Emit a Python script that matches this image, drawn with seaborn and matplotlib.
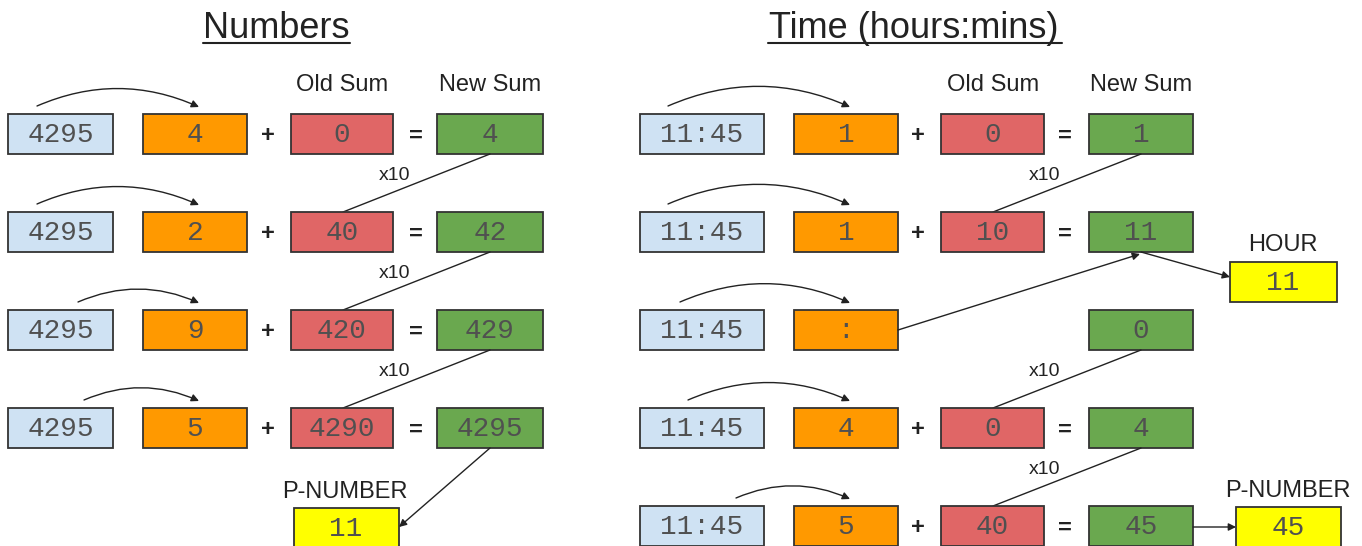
import matplotlib
matplotlib.use('Agg')
import matplotlib.pyplot as plt
import matplotlib.patches as patches
import seaborn as sns

# Values shown in the boxes
num_source = '4295'
num_digits = ['4', '2', '9', '5']
num_old = ['0', '40', '420', '4290']
num_new = ['4', '42', '429', '4295']
num_result = '11'

time_source = '11:45'
time_chars = ['1', '1', ':', '4', '5']
time_old = ['0', '10', None, '0', '40']
time_new = ['1', '11', '0', '4', '45']
hour_value = '11'
time_result = '45'

titles = ['Numbers', 'Time (hours:mins)']
old_label = 'Old Sum'
new_label = 'New Sum'
mult_label = 'x10'

# Colours (Google Drawings palette)
c_blue = '#cfe2f3'
c_orange = '#ff9900'
c_red = '#e06666'
c_green = '#6aa84f'
c_yellow = '#ffff00'
c_edge = '#333333'
c_text = '#505050'

sns.set_theme(style='white')
plt.rcParams['font.family'] = ['Liberation Sans', 'DejaVu Sans']

fig = plt.figure(figsize=(13.62, 5.46), dpi=100)
ax = fig.add_axes([0, 0, 1, 1])
ax.set_xlim(0, 1362)
ax.set_ylim(546, 0)
ax.axis('off')

row_tops = [114, 212, 310, 408, 506]
box_h = 40


def box(x0, x1, y0, color, label):
    ax.add_patch(patches.Rectangle((x0, y0), x1 - x0, box_h, facecolor=color,
                                   edgecolor=c_edge, linewidth=1.3))
    ax.text((x0 + x1) / 2, y0 + box_h / 2 + 1, label, ha='center', va='center',
            fontsize=20, family='Liberation Mono', color=c_text)


def arrow(p0, p1, rad=0.0, head=True):
    style = '-|>' if head else '-'
    ax.add_patch(patches.FancyArrowPatch(p0, p1, arrowstyle=style, mutation_scale=11,
                                         connectionstyle=f'arc3,rad={rad}',
                                         color='#222222', linewidth=1.0,
                                         shrinkA=0, shrinkB=0))


def title(x, txt, x0, x1):
    ax.text(x, 38, txt, ha='center', va='baseline', fontsize=26, color='#222222')
    ax.plot([x0, x1], [43, 43], color='#222222', linewidth=1.5)


def plus_eq(xp, xe, y):
    ax.text(xp, y + 2, '+', ha='center', va='center', fontsize=17, fontweight='bold', color='#222222')
    ax.text(xe, y + 2, '=', ha='center', va='center', fontsize=17, fontweight='bold', color='#222222')


def small(x, y, txt, size=17):
    ax.text(x, y, txt, ha='center', va='center', fontsize=size, color='#222222')


# ---------------- Left panel: Numbers ----------------
L_blue, L_orange, L_red, L_green = (8, 113), (143, 247), (291, 393), (437, 543)
title(276, titles[0], 203, 350)
small(342, 85, old_label)
small(490, 85, new_label)

curve_starts_left = [37, 37, 78, 84]
for i in range(4):
    y0 = row_tops[i]
    yc = y0 + box_h / 2
    box(*L_blue, y0, c_blue, num_source)
    box(*L_orange, y0, c_orange, num_digits[i])
    box(*L_red, y0, c_red, num_old[i])
    box(*L_green, y0, c_green, num_new[i])
    plus_eq(268, 416, yc)
    arrow((curve_starts_left[i], y0 - 8), (199, y0 - 7), rad=-0.22)
    if i < 3:
        arrow((490, y0 + box_h), (343, row_tops[i + 1]), head=False)
        small(395, y0 + box_h + 21, mult_label, size=14)

# P-NUMBER result
ax.add_patch(patches.Rectangle((294, 508), 105, box_h, facecolor=c_yellow,
                               edgecolor=c_edge, linewidth=1.3))
ax.text(346, 529, num_result, ha='center', va='center', fontsize=20,
        family='Liberation Mono', color=c_text)
small(345, 492, 'P-NUMBER')
arrow((490, row_tops[3] + box_h), (399, 527))

# ---------------- Right panel: Time ----------------
R_blue, R_orange, R_red, R_green = (640, 764), (794, 898), (941, 1044), (1089, 1193)
title(914, titles[1], 768, 1062)
small(993, 85, old_label)
small(1141, 85, new_label)

curve_starts_right = [668, 668, 680, 688, 736]
for i in range(5):
    y0 = row_tops[i]
    yc = y0 + box_h / 2
    box(*R_blue, y0, c_blue, time_source)
    box(*R_orange, y0, c_orange, time_chars[i])
    box(*R_green, y0, c_green, time_new[i])
    if time_old[i] is not None:
        box(*R_red, y0, c_red, time_old[i])
        plus_eq(918, 1065, yc)
    arrow((curve_starts_right[i], y0 - 8), (850, y0 - 7), rad=-0.22)
    if i in (0, 2, 3):
        arrow((1141, y0 + box_h), (993, row_tops[i + 1]), head=False)
        small(1045, y0 + box_h + 21, mult_label, size=14)

# colon ends the hour
arrow((898, 330), (1140, 254))

# HOUR result
ax.add_patch(patches.Rectangle((1230, 262), 107, box_h, facecolor=c_yellow,
                               edgecolor=c_edge, linewidth=1.3))
ax.text(1283, 283, hour_value, ha='center', va='center', fontsize=20,
        family='Liberation Mono', color=c_text)
small(1283, 245, 'HOUR')
arrow((1141, row_tops[1] + box_h), (1230, 277))

# P-NUMBER result
ax.add_patch(patches.Rectangle((1236, 507), 105, box_h, facecolor=c_yellow,
                               edgecolor=c_edge, linewidth=1.3))
ax.text(1288, 528, time_result, ha='center', va='center', fontsize=20,
        family='Liberation Mono', color=c_text)
small(1288, 491, 'P-NUMBER')
arrow((1193, 527), (1236, 527))

fig.savefig('out.png', dpi=100, facecolor='white')
